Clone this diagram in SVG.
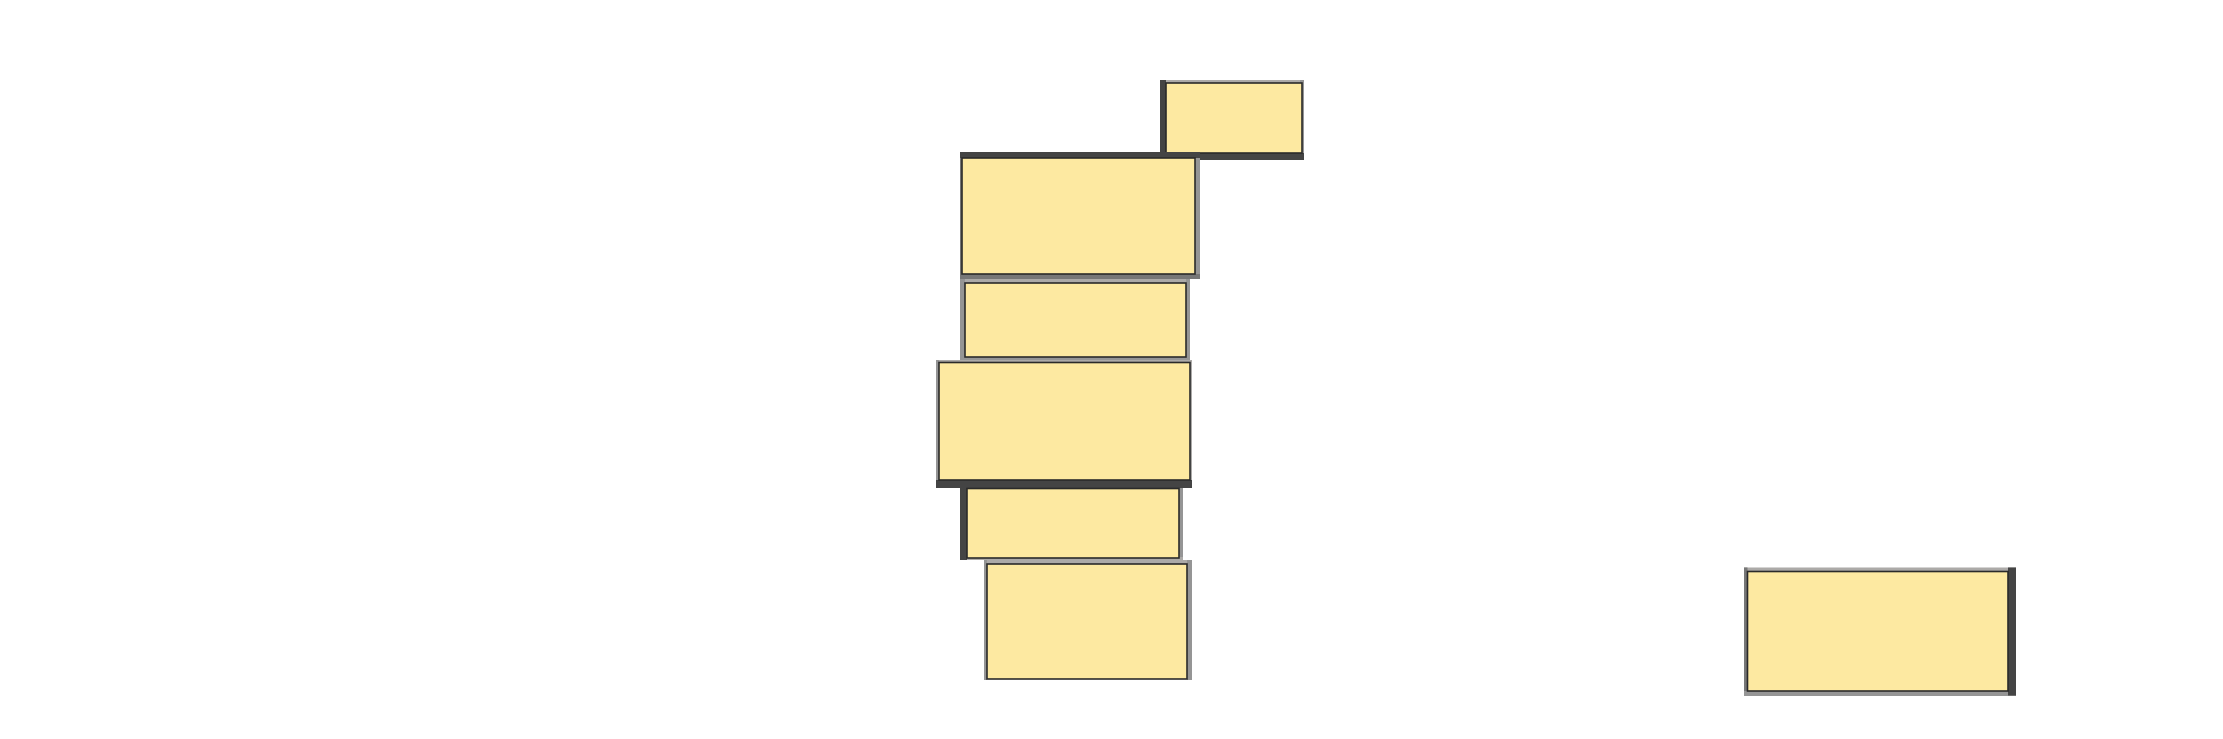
<svg xmlns="http://www.w3.org/2000/svg" width="2223" height="739" viewBox="0 0 2223 739">
<style>
.box{fill:#fde9a1;stroke:#2a2a2a;stroke-width:1.6}
.d{fill:#444}
.m{fill:#777}
.g{fill:#959595}
.l{fill:#acaaa8}
</style>
<rect width="2223" height="739" fill="#fff"/>
<g id="connectors"/>
<g id="n1">
<rect class="l" x="1160" y="80" width="144" height="4"/>
<rect class="g" x="1300" y="80" width="4" height="80"/>
<rect class="d" x="1160" y="153" width="144" height="7"/>
<rect class="d" x="1160" y="80" width="6" height="80"/>
<rect class="box" x="1166" y="83" width="136" height="70"/>
</g>
<g id="n2">
<rect class="m" x="960" y="152" width="3" height="127"/>
<rect class="g" x="1194" y="152" width="6" height="127"/>
<rect class="m" x="960" y="274" width="240" height="5"/>
<rect class="d" x="960" y="152" width="240" height="6"/>
<rect class="box" x="962" y="158" width="233" height="116"/>
</g>
<g id="n3">
<rect class="l" x="960" y="279" width="230" height="5"/>
<rect class="g" x="960" y="279" width="5" height="81"/>
<rect class="g" x="1186" y="279" width="4" height="81"/>
<rect class="g" x="960" y="357" width="230" height="3"/>
<rect class="box" x="965" y="283" width="221" height="74"/>
</g>
<g id="n4">
<rect class="l" x="936" y="360" width="256" height="3"/>
<rect class="g" x="936" y="360" width="3" height="128"/>
<rect class="l" x="1190" y="360" width="2" height="128"/>
<rect class="d" x="936" y="480" width="256" height="8"/>
<rect class="box" x="939" y="362.5" width="251" height="117.5"/>
</g>
<g id="n5">
<rect class="g" x="1179" y="488" width="4" height="72"/>
<rect class="l" x="960" y="557" width="223" height="3"/>
<rect class="d" x="960" y="488" width="7" height="72"/>
<rect class="box" x="967" y="488.5" width="212" height="69.5"/>
</g>
<g id="n6">
<rect class="l" x="984" y="560" width="208" height="4"/>
<rect class="g" x="984" y="560" width="3" height="120"/>
<rect class="g" x="1187" y="560" width="5" height="120"/>
<rect class="box" x="987" y="564" width="200" height="115"/>
</g>
<g id="n7">
<rect class="l" x="1744" y="567.5" width="272" height="4"/>
<rect class="m" x="1744" y="567.5" width="3.5" height="128"/>
<rect class="g" x="1744" y="691" width="272" height="5"/>
<rect class="d" x="2008" y="567.5" width="8" height="128"/>
<rect class="box" x="1747.5" y="571.5" width="260.5" height="119.5"/>
</g>
</svg>
